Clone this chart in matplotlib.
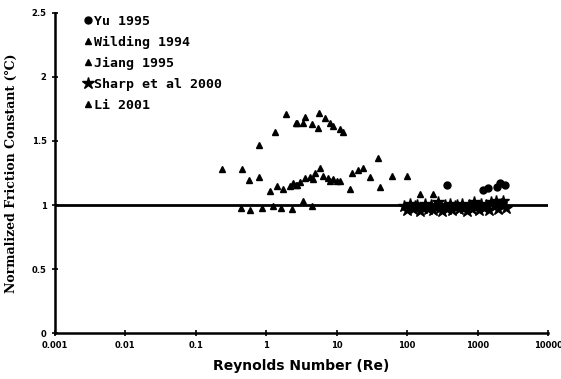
import matplotlib
matplotlib.use("Agg")
import matplotlib.pyplot as plt
import numpy as np

# ---- data ----
yu_re = [370, 1200, 1380, 1900, 2100, 2450]
yu_c = [1.16, 1.12, 1.13, 1.14, 1.17, 1.16]

wilding_re = [0.79, 1.33, 1.91, 2.65, 2.75, 3.3, 3.55, 4.47, 5.6, 5.4, 6.8, 8.05, 8.9, 11.2, 12.3,
              1.13, 1.42, 1.73, 2.18, 2.4, 2.65, 2.75, 3.0, 3.55, 4.2, 4.6, 4.9, 5.8, 6.4, 7.5, 8.0, 8.9, 10.1, 11.0]
wilding_c = [1.47, 1.57, 1.71, 1.64, 1.64, 1.64, 1.69, 1.63, 1.72, 1.60, 1.68, 1.64, 1.62, 1.59, 1.57,
             1.11, 1.15, 1.125, 1.15, 1.17, 1.16, 1.16, 1.18, 1.21, 1.22, 1.20, 1.25, 1.29, 1.23, 1.21, 1.19, 1.20, 1.19, 1.19]

jiang_re = [0.44, 0.59, 0.87, 1.25, 1.62, 2.3, 3.3, 4.45, 150, 233]
jiang_c = [0.98, 0.96, 0.98, 0.99, 0.98, 0.97, 1.03, 0.99, 1.09, 1.09]

sharp_re = [90, 100, 110, 120, 130, 140, 150, 165, 180, 200, 215, 230, 250, 270, 290, 310, 340,
            370, 400, 430, 470, 510, 550, 600, 650, 700, 760, 820, 890, 960, 1040, 1120, 1220,
            1320, 1430, 1550, 1680, 1820, 1970, 2130, 2300, 2500]
sharp_c = [0.99, 0.96, 1.01, 0.97, 0.99, 1.00, 0.95, 0.98, 1.01, 0.97, 1.00, 0.96, 0.99, 1.02, 0.98,
           0.95, 1.00, 0.97, 1.01, 0.96, 0.99, 1.00, 0.97, 1.01, 0.98, 0.95, 1.00, 0.97, 1.02, 0.99,
           0.96, 1.01, 0.98, 1.00, 0.96, 1.02, 0.99, 1.03, 0.97, 1.01, 1.03, 0.98]

li_re = [0.235, 0.45, 0.57, 0.79, 15.5, 16.6, 20, 23.7, 29.8, 38.7, 41.4, 61, 100]
li_c = [1.28, 1.28, 1.195, 1.22, 1.125, 1.25, 1.27, 1.29, 1.22, 1.37, 1.14, 1.23, 1.23]

xticks = [0.001, 0.01, 0.1, 1, 10, 100, 1000, 10000]
xtick_labels = ["0.001", "0.01", "0.1", "1", "10", "100", "1000", "10000"]
yticks = [0, 0.5, 1, 1.5, 2, 2.5]
ytick_labels = ["0", "0.5", "1", "1.5", "2", "2.5"]

fig = plt.figure(figsize=(5.61, 3.79), dpi=100)
ax = fig.add_axes([0.098, 0.121, 0.879, 0.845])

ax.axhline(1.0, color="black", lw=2.0, zorder=1)

ax.plot(sharp_re, sharp_c, linestyle="none", marker="*", ms=9, color="black", label="Sharp et al 2000", zorder=3)
ax.plot(yu_re, yu_c, linestyle="none", marker="o", ms=5, color="black", label="Yu 1995", zorder=3)
ax.plot(wilding_re, wilding_c, linestyle="none", marker="^", ms=5, color="black", label="Wilding 1994", zorder=3)
ax.plot(jiang_re, jiang_c, linestyle="none", marker="^", ms=4, color="black", label="Jiang 1995", zorder=3)
ax.plot(li_re, li_c, linestyle="none", marker="^", ms=5, color="black", label="Li 2001", zorder=3)

ax.set_xscale("log")
ax.set_xlim(0.001, 10000)
ax.set_ylim(0, 2.5)
ax.set_xticks(xticks)
ax.set_xticklabels(xtick_labels)
ax.minorticks_off()
ax.set_yticks(yticks)
ax.set_yticklabels(ytick_labels)
for lab in ax.get_xticklabels() + ax.get_yticklabels():
    lab.set_fontsize(6)
    lab.set_fontweight("bold")
ax.tick_params(direction="inout", length=4, width=1.2, pad=4)

for s in ["top", "right"]:
    ax.spines[s].set_visible(False)
for s in ["left", "bottom"]:
    ax.spines[s].set_linewidth(1.8)

ax.set_xlabel("Reynolds Number (Re)", fontsize=10, fontweight="bold", labelpad=6)
ax.set_ylabel("Normalized Friction Constant (℃)", fontsize=9, fontweight="bold",
              family="DejaVu Serif", labelpad=10)

handles, labels = ax.get_legend_handles_labels()
order = [labels.index(n) for n in ["Yu 1995", "Wilding 1994", "Jiang 1995", "Sharp et al 2000", "Li 2001"]]
leg = ax.legend([handles[i] for i in order], [labels[i] for i in order],
                loc="upper left", bbox_to_anchor=(0.045, 1.01), frameon=False,
                handletextpad=0.1, handlelength=0.8, labelspacing=0.6, borderaxespad=0,
                prop={"family": "DejaVu Sans Mono", "weight": "bold", "size": 9.5})

fig.savefig("out.png", dpi=100, facecolor="white")
